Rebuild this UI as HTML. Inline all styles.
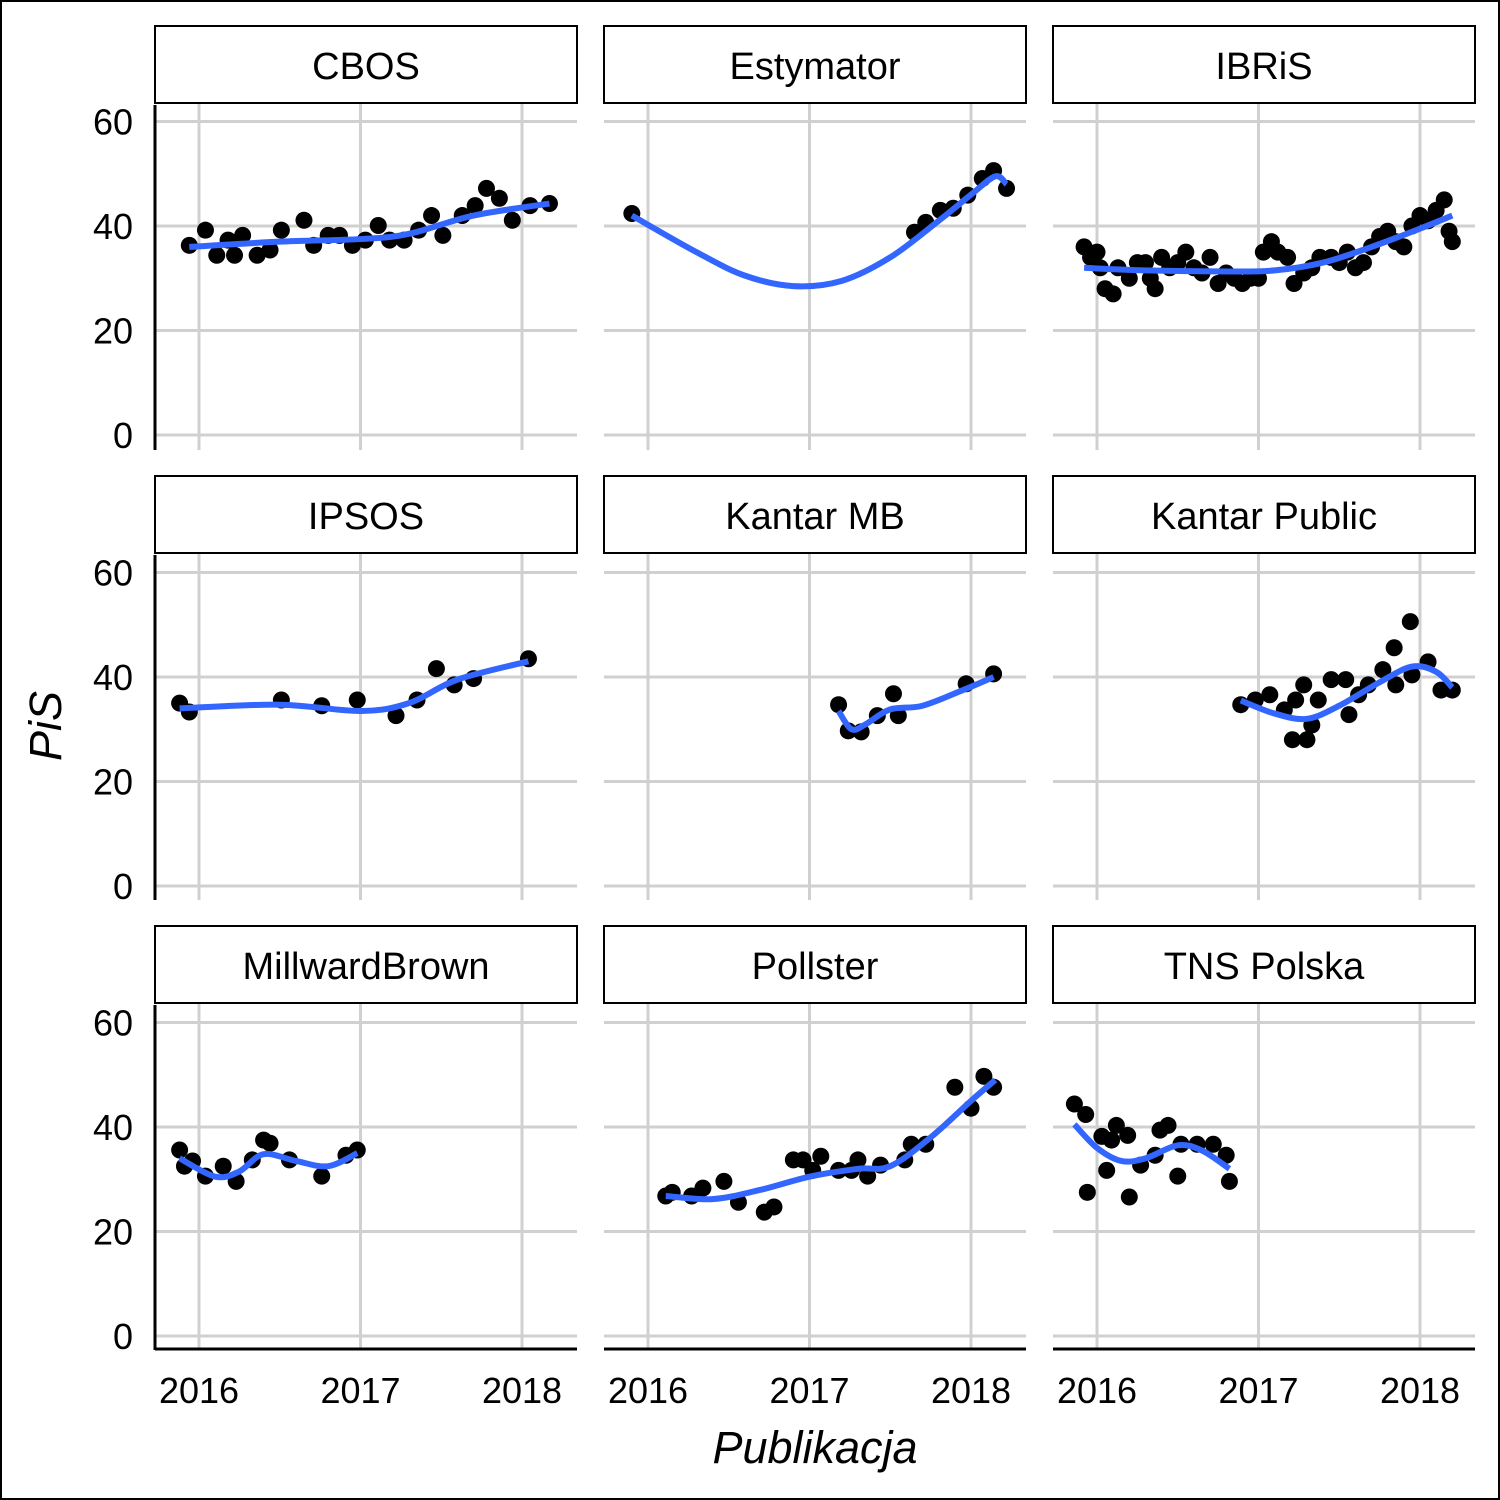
<!DOCTYPE html>
<html><head><meta charset="utf-8"><style>
html,body{margin:0;padding:0;background:#fff}
svg{display:block}
text{font-family:"Liberation Sans",sans-serif;fill:#000}
</style></head><body>
<svg id="chart" width="1500" height="1500" viewBox="0 0 1500 1500" xmlns="http://www.w3.org/2000/svg">
<rect x="1" y="1" width="1498" height="1498" fill="#fff" stroke="#000" stroke-width="2"/>
</svg>
<script>
const panelNames = ["CBOS","Estymator","IBRiS","IPSOS","Kantar MB","Kantar Public","MillwardBrown","Pollster","TNS Polska"];
const xTicks = [2016,2017,2018];
const yTicks = [0,20,40,60];
const cbosX=[2015.94,2016.04,2016.11,2016.18,2016.22,2016.27,2016.36,2016.44,2016.51,2016.65,2016.71,2016.80,2016.87,2016.95,2017.03,2017.11,2017.18,2017.27,2017.36,2017.44,2017.51,2017.63,2017.71,2017.78,2017.86,2017.94,2018.05,2018.17];
const cbosY=[36.3,39.2,34.4,37.3,34.4,38.2,34.4,35.4,39.2,41.1,36.3,38.2,38.2,36.3,37.3,40.1,37.3,37.3,39.2,42,38.2,42,43.9,47.2,45.3,41.1,43.9,44.3];
const cbosSX=[2015.94,2016.5,2017,2017.3,2017.7,2018.17];
const cbosSY=[36,37,37.5,38.5,42,44.3];
const estX=[2015.90,2017.65,2017.72,2017.81,2017.89,2017.98,2018.07,2018.14,2018.22];
const estY=[42.4,38.8,40.7,43,43.4,45.9,49.1,50.6,47.2];
const estSX=[2015.9,2016.3,2016.6,2016.9,2017.2,2017.5,2017.8,2018.0,2018.15,2018.22];
const estSY=[42,35,30.5,28.5,29.5,34,41,46,49.5,48];
const ibrisX=[2015.92,2015.96,2016.0,2016.02,2016.05,2016.1,2016.13,2016.2,2016.25,2016.3,2016.33,2016.36,2016.4,2016.45,2016.5,2016.55,2016.6,2016.65,2016.7,2016.75,2016.8,2016.85,2016.9,2016.95,2017.0,2017.03,2017.08,2017.12,2017.18,2017.22,2017.28,2017.33,2017.38,2017.45,2017.5,2017.55,2017.6,2017.65,2017.7,2017.75,2017.8,2017.85,2017.9,2017.95,2018.0,2018.05,2018.1,2018.15,2018.18,2018.2];
const ibrisY=[36,34,35,32,28,27,32,30,33,33,30,28,34,32,33,35,32,31,34,29,31,30,29,30,30,35,37,35,34,29,31,32,34,34,33,35,32,33,36,38,39,37,36,40,42,41,43,45,39,37];
const ibrisSX=[2015.92,2016.3,2016.8,2017.1,2017.4,2017.7,2018.0,2018.2];
const ibrisSY=[32,31.5,31.3,31.5,33,36,39.5,42];
const ipsosX=[2015.88,2015.94,2016.51,2016.76,2016.98,2017.22,2017.35,2017.47,2017.58,2017.70,2018.04];
const ipsosY=[35,33.3,35.6,34.5,35.6,32.6,35.6,41.6,38.5,39.7,43.5];
const ipsosSX=[2015.88,2016.5,2017.0,2017.3,2017.6,2018.04];
const ipsosSY=[34,34.7,33.5,35,39.5,43];
const kmbX=[2017.18,2017.24,2017.32,2017.42,2017.52,2017.55,2017.97,2018.14];
const kmbY=[34.7,29.7,29.5,32.6,36.8,32.6,38.7,40.6];
const kmbSX=[2017.18,2017.26,2017.35,2017.5,2017.7,2017.95,2018.14];
const kmbSY=[33.5,30,31,33.8,34.5,37.5,40];
const kpX=[2016.89,2016.98,2017.07,2017.16,2017.21,2017.23,2017.28,2017.30,2017.33,2017.37,2017.45,2017.54,2017.56,2017.62,2017.68,2017.77,2017.84,2017.85,2017.94,2017.95,2018.05,2018.13,2018.20];
const kpY=[34.7,35.6,36.6,33.7,28,35.6,38.5,28,30.8,35.6,39.5,39.5,32.8,36.6,38.5,41.4,45.6,38.5,50.6,40.4,42.9,37.5,37.5];
const kpSX=[2016.89,2017.1,2017.3,2017.5,2017.75,2017.95,2018.1,2018.2];
const kpSY=[35.5,33,32,34.5,39,42,41,38];
const mbX=[2015.88,2015.91,2015.96,2016.04,2016.15,2016.23,2016.33,2016.40,2016.44,2016.56,2016.76,2016.91,2016.98];
const mbY=[35.6,32.5,33.5,30.6,32.5,29.6,33.7,37.5,36.9,33.7,30.6,34.6,35.6];
const mbSX=[2015.88,2016.1,2016.25,2016.4,2016.6,2016.8,2016.98];
const mbSY=[34,30.5,31.5,34.8,33.5,32.5,35];
const polX=[2016.11,2016.15,2016.27,2016.34,2016.47,2016.56,2016.72,2016.78,2016.90,2016.96,2017.02,2017.07,2017.18,2017.26,2017.30,2017.36,2017.44,2017.59,2017.63,2017.72,2017.90,2018.00,2018.08,2018.14];
const polY=[26.8,27.5,26.8,28.3,29.6,25.6,23.7,24.7,33.7,33.7,31.7,34.4,31.7,31.7,33.7,30.6,32.7,33.7,36.7,36.7,47.6,43.6,49.7,47.6];
const polSX=[2016.11,2016.4,2016.7,2017.0,2017.3,2017.5,2017.75,2018.0,2018.15];
const polSY=[26.8,26.2,28,30.5,32,32.5,38,45,49];
const tnsX=[2015.86,2015.93,2015.94,2016.03,2016.06,2016.09,2016.12,2016.19,2016.20,2016.27,2016.36,2016.39,2016.44,2016.50,2016.52,2016.62,2016.72,2016.80,2016.82];
const tnsY=[44.4,42.4,27.5,38.2,31.7,37.5,40.3,38.4,26.6,32.7,34.6,39.4,40.3,30.6,36.7,36.7,36.7,34.6,29.6];
const tnsSX=[2015.86,2016.0,2016.15,2016.3,2016.5,2016.65,2016.82];
const tnsSY=[40.5,36,33.5,34,36.5,35.5,32];

const PX=[cbosX,estX,ibrisX,ipsosX,kmbX,kpX,mbX,polX,tnsX];
const PY=[cbosY,estY,ibrisY,ipsosY,kmbY,kpY,mbY,polY,tnsY];
const SX=[cbosSX,estSX,ibrisSX,ipsosSX,kmbSX,kpSX,mbSX,polSX,tnsSX];
const SY=[cbosSY,estSY,ibrisSY,ipsosSY,kmbSY,kpSY,mbSY,polSY,tnsSY];

const NS="http://www.w3.org/2000/svg";
const svg=document.getElementById('chart');
function mk(tag,attrs,parent){const e=document.createElementNS(NS,tag);for(const k in attrs)e.setAttribute(k,attrs[k]);(parent||svg).appendChild(e);return e;}
const colLeft=[155,604,1053], panelW=422;
const rowTop=[103,553,1003], plotH=347;
const y0=[435,886,1336], yUnit=5.225;
for(let i=0;i<9;i++){
  const c=i%3,r=Math.floor(i/3);
  const L=colLeft[c],T=rowTop[r];
  const sx=v=>L+44+(v-2016)*161.5;
  const sy=v=>y0[r]-v*yUnit;
  const g=mk('g',{});
  
  
  for(const t of yTicks){const l=mk('line',{x1:L,x2:L+panelW,y1:sy(t),y2:sy(t),stroke:'#d0d0d0','stroke-width':3},g);
    }
  for(const t of xTicks){const l=mk('line',{x1:sx(t),x2:sx(t),y1:T,y2:T+plotH,stroke:'#d0d0d0','stroke-width':3},g);
    }
  const strip=mk('rect',{x:L,y:26,width:panelW,height:77,fill:'#fff',stroke:'#000','stroke-width':2},g);
  strip.setAttribute('y',T-77);
  
  const st=mk('text',{x:L+panelW/2,y:T-24,'text-anchor':'middle','font-size':38},g);
  st.textContent=panelNames[i];
  
  for(let k=0;k<PX[i].length;k++){const p=mk('circle',{cx:sx(PX[i][k]),cy:sy(PY[i][k]),r:8.5,fill:'#000'},g);
    }
  const xs=SX[i].map(sx),ys=SY[i].map(sy);
  let d='M'+xs[0]+','+ys[0];
  for(let k=0;k<xs.length-1;k++){
    const x0=xs[Math.max(k-1,0)],yA=ys[Math.max(k-1,0)],x3=xs[Math.min(k+2,xs.length-1)],y3=ys[Math.min(k+2,xs.length-1)];
    const c1x=xs[k]+(xs[k+1]-x0)/6,c1y=ys[k]+(ys[k+1]-yA)/6,c2x=xs[k+1]-(x3-xs[k])/6,c2y=ys[k+1]-(y3-ys[k])/6;
    d+=` C${c1x},${c1y} ${c2x},${c2y} ${xs[k+1]},${ys[k+1]}`;
  }
  const path=mk('path',{d:d,fill:'none',stroke:'#3366ff','stroke-width':6,'stroke-linecap':'butt'},g);
  
  if(c===0){
    const a=mk('line',{x1:L,x2:L,y1:T+2,y2:T+plotH,stroke:'#000','stroke-width':3},g);
    
    for(const t of yTicks){const tl=mk('text',{x:L-22,y:sy(t)+13,'text-anchor':'end','font-size':36},g);tl.textContent=t;
      }
  }
  if(r===2){
    const a=mk('line',{x1:L,x2:L+panelW,y1:T+plotH-1,y2:T+plotH-1,stroke:'#000','stroke-width':3},g);
    
    for(const t of xTicks){const tl=mk('text',{x:sx(t),y:1403,'text-anchor':'middle','font-size':36},g);tl.textContent=t;
      }
  }
}
const xt=mk('text',{x:815,y:1463,'text-anchor':'middle','font-size':45,'font-style':'italic'});xt.textContent='Publikacja';

const yt=mk('text',{x:0,y:0,'text-anchor':'middle','font-size':45,'font-style':'italic',transform:'translate(61,726) rotate(-90)'});yt.textContent='PiS';

</script>
</body></html>
